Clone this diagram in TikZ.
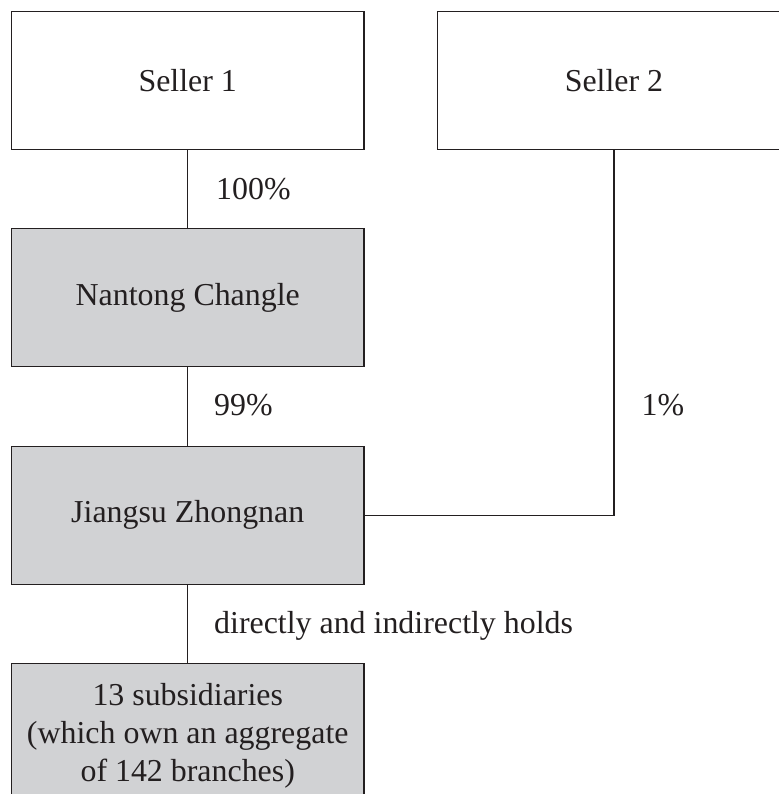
\documentclass[tikz,border=0pt]{standalone}
\usepackage{fontspec}
\setmainfont{Liberation Serif}
\definecolor{boxgray}{RGB}{209,210,212}
\definecolor{linecol}{RGB}{35,31,32}
\begin{document}
\begin{tikzpicture}[x=1pt,y=-1pt,
  every node/.style={font=\fontsize{31.9}{37.6}\selectfont, text=linecol},
  entity/.style={draw=linecol, line width=1.2pt, minimum width=352.5pt, minimum height=138pt, inner sep=0pt, align=center},
  whitebox/.style={entity, fill=white},
  graybox/.style={entity, fill=boxgray},
  pct/.style={anchor=base west, inner sep=0pt},
  link/.style={draw=linecol, line width=1.2pt}]
\useasboundingbox (0,0) rectangle (778,794);
\node[whitebox] (s1) at (187.75,80.5) {Seller 1};
\node[whitebox] (s2) at (614,80.5) {Seller 2};
\node[graybox] (nc) at (187.75,297.7) {Nantong Changle};
\node[graybox] (jz) at (187.75,515.2) {Jiangsu Zhongnan};
\node[graybox, minimum height=145pt] (sub) at (187.75,735.8) {13 subsidiaries\\(which own an aggregate\\of 142 branches)};
\draw[link] (s1.south) -- (nc.north);
\draw[link] (nc.south) -- (jz.north);
\draw[link] (jz.south) -- (sub.north);
\draw[link] (s2.south) |- (jz.east);
\node[pct] (l100) at (216,200) {100\%};
\node[pct] (l99) at (214,415.5) {99\%};
\node[pct] (l1) at (641.5,415) {1\%};
\node[pct] (lh) at (214,633) {directly and indirectly holds};
\end{tikzpicture}
\end{document}
